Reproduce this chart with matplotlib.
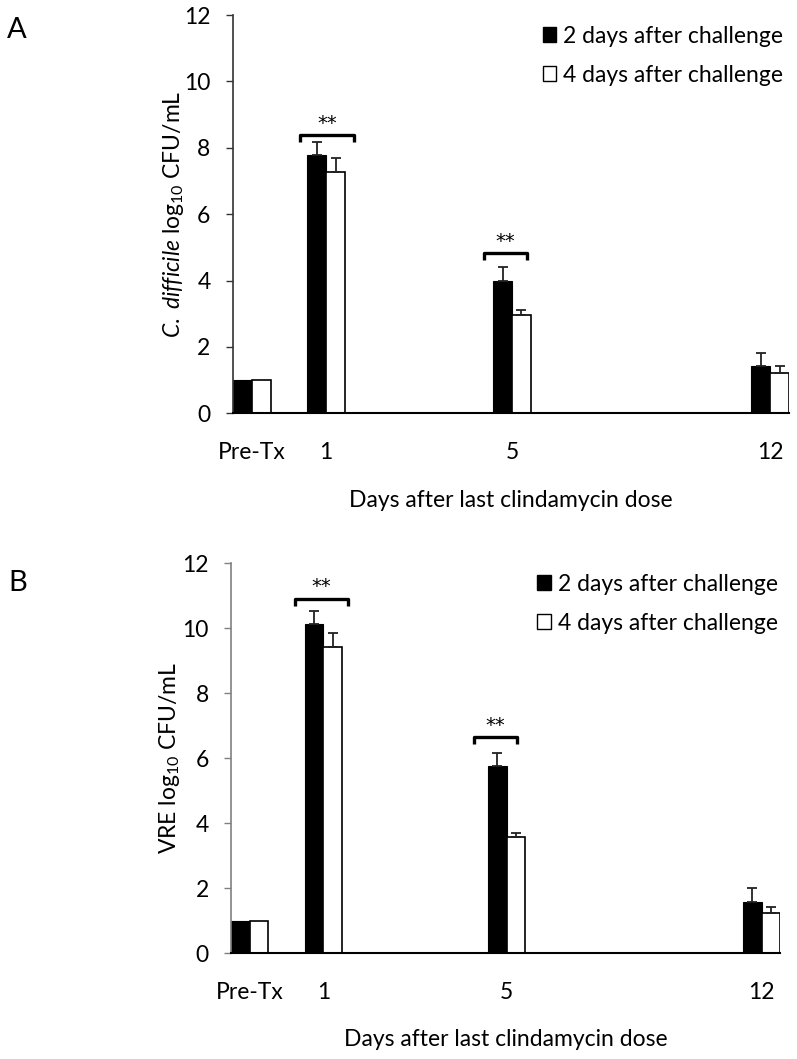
import numpy as np
import matplotlib.pyplot as plt
from matplotlib.patches import Patch

plt.rcParams['font.family'] = ['Lato', 'DejaVu Sans']
plt.rcParams['mathtext.fontset'] = 'custom'
plt.rcParams['mathtext.rm'] = 'Lato'
plt.rcParams['mathtext.it'] = 'Lato:italic'

categories = ['Pre-Tx', '1', '5', '12']
series_names = ['2 days after challenge', '4 days after challenge']

# C. difficile (panel A)
cd_day2 = [1.0, 7.77, 3.98, 1.42]
cd_day2_err = [0, 0.39, 0.42, 0.41]
cd_day4 = [1.0, 7.26, 2.95, 1.22]
cd_day4_err = [0, 0.43, 0.16, 0.21]

# VRE (panel B)
vre_day2 = [1.0, 10.12, 5.77, 1.59]
vre_day2_err = [0, 0.41, 0.40, 0.41]
vre_day4 = [1.0, 9.42, 3.57, 1.23]
vre_day4_err = [0, 0.43, 0.14, 0.19]

# significance brackets: (x left, x right, height)
cd_brackets = [(0.121, 0.218, 8.38), (0.451, 0.529, 4.82)]
vre_brackets = [(0.117, 0.213, 10.9), (0.442, 0.520, 6.65)]

pos = np.array([0.034, 0.168, 0.502, 0.966])
w = 0.034
FS = 16.5


def panel(ax, d2, e2, d4, e4, brackets, ylabel, spine_col, ylab_x):
    ax.bar(pos - w / 2, d2, w, color='black', edgecolor='black', linewidth=0.8)
    ax.bar(pos + w / 2, d4, w, color='white', edgecolor='black', linewidth=1.2)
    idx = np.arange(1, len(categories))
    ax.errorbar(pos[idx] - w / 2, np.array(d2)[idx],
                yerr=[np.zeros(len(idx)), np.array(e2)[idx]],
                fmt='none', ecolor='#222222', elinewidth=1.3, capsize=3.5, capthick=1.3)
    ax.errorbar(pos[idx] + w / 2, np.array(d4)[idx],
                yerr=[np.zeros(len(idx)), np.array(e4)[idx]],
                fmt='none', ecolor='#222222', elinewidth=1.3, capsize=3.5, capthick=1.3)

    for x0, x1, yb in brackets:
        ax.plot([x0, x0, x1, x1], [yb - 0.2, yb, yb, yb - 0.2], color='black',
                lw=2.4, solid_joinstyle='round', solid_capstyle='butt')
        ax.text((x0 + x1) / 2, yb + 0.08, '**', ha='center', va='bottom',
                fontsize=14, family='DejaVu Sans')

    ax.set_xlim(0, 1)
    ax.set_ylim(0, 12)
    ax.set_yticks(range(0, 13, 2))
    ax.set_xticks(pos)
    ax.set_xticklabels(categories)
    ax.tick_params(axis='x', length=0, pad=21, labelsize=FS)
    ax.tick_params(axis='y', length=5, width=1.0, pad=11, labelsize=FS, color=spine_col)
    for s in ['top', 'right']:
        ax.spines[s].set_visible(False)
    ax.spines['left'].set_color(spine_col)
    ax.spines['left'].set_linewidth(1.2)
    ax.spines['bottom'].set_linewidth(1.5)

    ax.set_ylabel(ylabel, fontsize=FS, va='center')
    ax.yaxis.set_label_coords(ylab_x, 0.5)
    ax.set_xlabel('Days after last clindamycin dose', fontsize=FS, va='center')
    ax.xaxis.set_label_coords(0.5, -0.22)

    handles = [Patch(facecolor='black', edgecolor='black'),
               Patch(facecolor='white', edgecolor='black', linewidth=1.0)]
    ax.legend(handles, series_names, loc='upper left', bbox_to_anchor=(0.557, 0.973),
              frameon=False, fontsize=FS, handlelength=0.6, handleheight=0.6,
              handletextpad=0.3, labelspacing=0.78, borderpad=0, borderaxespad=0)


fig = plt.figure(figsize=(7.97, 10.59), dpi=100)
ax1 = fig.add_axes([0.292, 0.6097, 0.698, 0.3761])
ax2 = fig.add_axes([0.2898, 0.0998, 0.6892, 0.3683])

panel(ax1, cd_day2, cd_day2_err, cd_day4, cd_day4_err, cd_brackets,
      r'$\mathit{C.\ difficile}$ log$_{10}$ CFU/mL', '#333333', -0.107)
panel(ax2, vre_day2, vre_day2_err, vre_day4, vre_day4_err, vre_brackets,
      r'VRE log$_{10}$ CFU/mL', '#808080', -0.111)

fig.text(0.009, 0.984, 'A', fontsize=21, va='top', ha='left')
fig.text(0.010, 0.462, 'B', fontsize=21, va='top', ha='left')

fig.savefig('out.png', dpi=100)
